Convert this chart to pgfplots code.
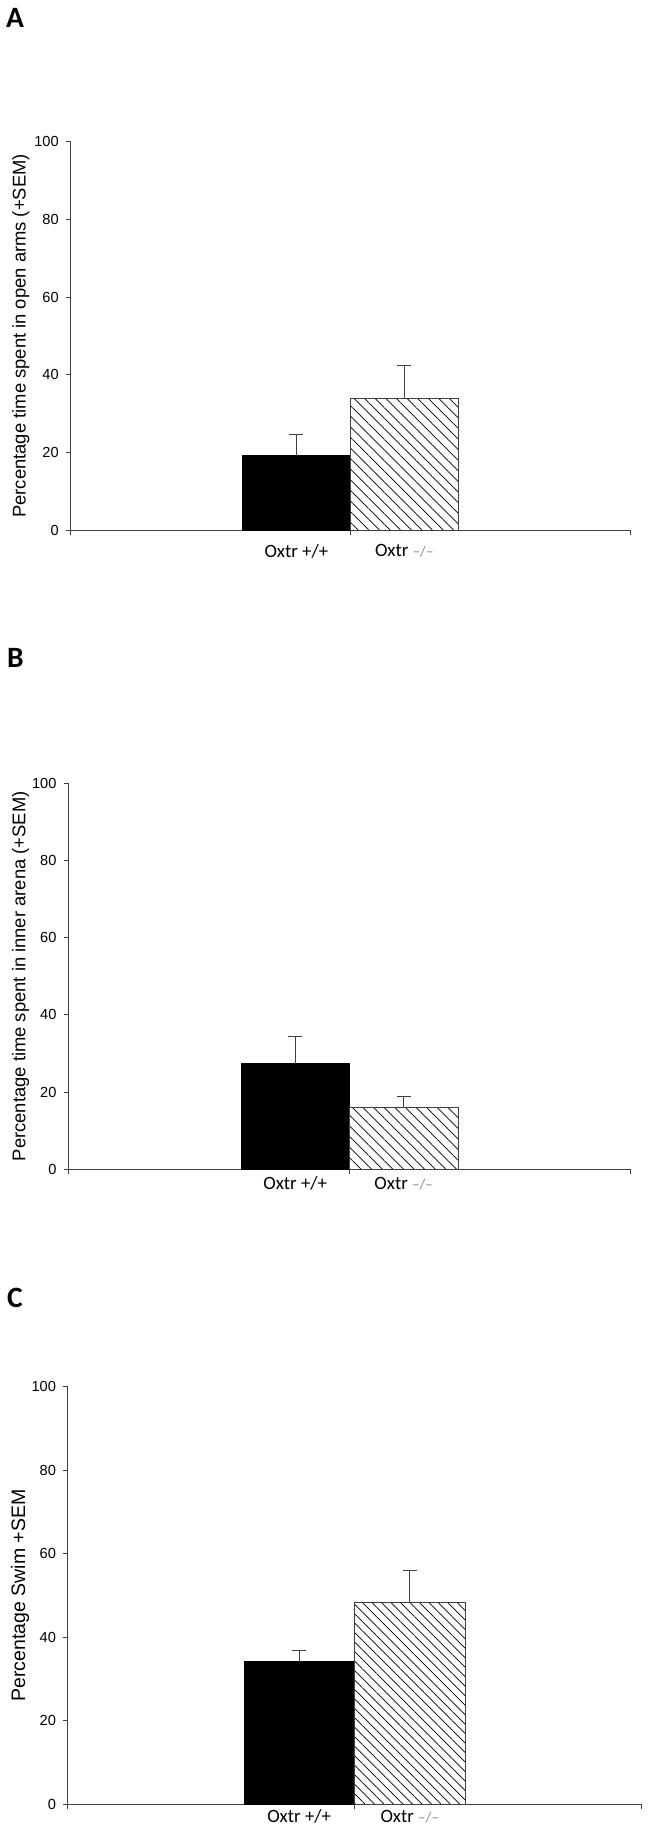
\documentclass[border=0pt]{standalone}
\usepackage{pgfplots}
\pgfplotsset{compat=1.18}
\usepackage{fontspec}
\setmainfont{Liberation Sans}
\newfontfamily\calfont{Carlito}
\usetikzlibrary{patterns.meta}
\definecolor{axgray}{HTML}{404040}
\definecolor{dashgray}{HTML}{8A8A8A}

\pgfplotsset{
  panel/.style={
    scale only axis, anchor=south west,
    xmin=0, xmax=1, ymin=0, ymax=100,
    axis x line=bottom, axis y line=left,
    axis line style={-, draw=axgray, line width=1pt},
    tick align=outside,
    major tick length=5pt,
    tick style={draw=axgray, line width=1pt},
    ytick={0,20,40,60,80,100},
    /pgf/number format/assume math mode=true,
    yticklabel style={font=\fontsize{14.6}{16}\selectfont, xshift=-3.5pt},
    xtick={0,0.5,1},
    xticklabels={},
    extra x ticks={0.4035,0.5965},
    extra x tick labels={Oxtr +/+, Oxtr {\color{dashgray}\fontsize{15}{16}\selectfont –/–}},
    extra x tick style={major tick length=0pt, tick style={draw=none},
      tick label style={font=\calfont\fontsize{18.8}{20}\selectfont}},
    ylabel style={anchor=center, font=\fontsize{18.4}{20}\selectfont},
    clip=false,
  },
  blackbar/.style={ybar, bar shift=0pt, bar width=0.193, fill=black, draw=black,
    error bars/.cd, y dir=plus, y explicit, error mark=|,
    error bar style={draw=axgray, line width=1pt},
    error mark options={draw=axgray, line width=1pt, mark size=7pt}},
  hatchbar/.style={ybar, bar shift=0pt, bar width=0.193, draw=axgray, line width=0.8pt,
    pattern={Lines[angle=-45,distance=#1,line width=0.7pt]}, pattern color=black,
    error bars/.cd, y dir=plus, y explicit, error mark=|,
    error bar style={draw=axgray, line width=1pt, solid},
    error mark options={draw=axgray, line width=1pt, mark size=7pt}},
  hatchbar/.default=7.5pt,
}

\begin{document}
\begin{tikzpicture}
\path[use as bounding box] (0,0) rectangle (648pt,-1837pt);

\node[anchor=base west, inner sep=0, font=\calfont\bfseries\fontsize{29.5}{30}\selectfont] at (6pt,-27pt) {A};
\node[anchor=base west, inner sep=0, font=\calfont\bfseries\fontsize{29.5}{30}\selectfont] at (7pt,-667pt) {B};
\node[anchor=base west, inner sep=0, font=\calfont\bfseries\fontsize{29.5}{30}\selectfont] at (7pt,-1307pt) {C};

% Panel A
\begin{axis}[panel, at={(70.7pt,-530pt)}, width=559.3pt, height=388.3pt,
  ylabel={Percentage time spent in open arms (+SEM)},
  ylabel style={at={(axis description cs:-0.0889,0.5)}},
  extra x tick style={tick label style={yshift=-11pt}}]
\addplot[blackbar] coordinates {(0.4035,19.15) +- (0,5.53)};
\addplot[hatchbar] coordinates {(0.5965,33.98) +- (0,8.29)};
\end{axis}

% Panel B
\begin{axis}[panel, at={(68.5pt,-1169.3pt)}, width=561.9pt, height=386pt,
  ylabel={Percentage time spent in inner arena (+SEM)},
  ylabel style={at={(axis description cs:-0.0854,0.5)}},
  extra x tick style={tick label style={yshift=-4pt}}]
\addplot[blackbar] coordinates {(0.4035,27.4) +- (0,7.0)};
\addplot[hatchbar] coordinates {(0.5965,16.0) +- (0,2.9)};
\end{axis}

% Panel C
\begin{axis}[panel, at={(68pt,-1804.3pt)}, width=573pt, height=417.6pt,
  ylabel={Percentage Swim +SEM},
  ylabel style={at={(axis description cs:-0.0838,0.5)}, font=\fontsize{19.5}{21}\selectfont},
  extra x tick style={tick label style={yshift=-2pt}}]
\addplot[blackbar] coordinates {(0.4035,34.3) +- (0,2.6)};
\addplot[hatchbar=6.7pt] coordinates {(0.5965,48.4) +- (0,7.7)};
\end{axis}
\end{tikzpicture}
\end{document}
